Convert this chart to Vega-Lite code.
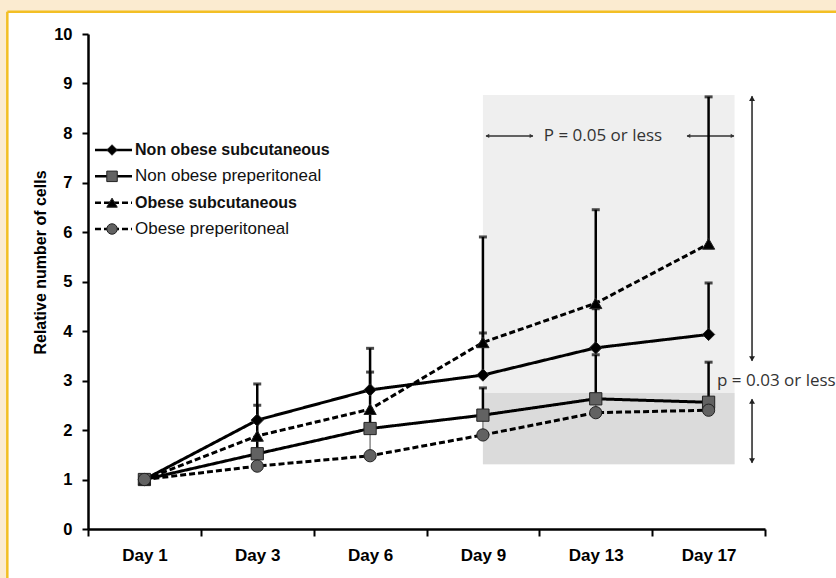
{
  "$schema": "https://vega.github.io/schema/vega-lite/v6.json",
  "width": 677,
  "height": 495,
  "autosize": "none",
  "padding": {"left": 88, "top": 34, "right": 71, "bottom": 49},
  "background": "white",
  "config": {
    "view": {"stroke": null},
    "axis": {"zindex": 1, "grid": false, "domainColor": "#000", "domainWidth": 2.5, "tickColor": "#000", "tickWidth": 2, "tickSize": 6, "labelColor": "#000", "labelFont": "Liberation Sans, Arial, sans-serif", "labelFontWeight": "bold", "titleFont": "Liberation Sans, Arial, sans-serif", "titleFontWeight": "bold", "titleColor": "#000"},
    "axisY": {"labelFontSize": 16.5, "labelPadding": 10, "titleFontSize": 16, "titleX": -48, "titleY": 228, "titleAlign": "center", "titleBaseline": "middle", "titleAngle": 270},
    "axisX": {"labelFontSize": 17, "labelPadding": 11}
  },
  "datasets": {
    "cells": [
      {"day": "Day 1", "series": "Non obese subcutaneous", "value": 1},
      {"day": "Day 3", "series": "Non obese subcutaneous", "value": 2.2, "upper": 2.93},
      {"day": "Day 6", "series": "Non obese subcutaneous", "value": 2.81, "upper": 3.65},
      {"day": "Day 9", "series": "Non obese subcutaneous", "value": 3.11, "upper": 3.96},
      {"day": "Day 13", "series": "Non obese subcutaneous", "value": 3.66, "upper": 4.45},
      {"day": "Day 17", "series": "Non obese subcutaneous", "value": 3.93, "upper": 4.97},
      {"day": "Day 1", "series": "Non obese preperitoneal", "value": 1},
      {"day": "Day 3", "series": "Non obese preperitoneal", "value": 1.52, "upper": 1.8},
      {"day": "Day 6", "series": "Non obese preperitoneal", "value": 2.03, "upper": 2.35},
      {"day": "Day 9", "series": "Non obese preperitoneal", "value": 2.3, "upper": 2.85},
      {"day": "Day 13", "series": "Non obese preperitoneal", "value": 2.63, "upper": 3.52},
      {"day": "Day 17", "series": "Non obese preperitoneal", "value": 2.56, "upper": 3.37},
      {"day": "Day 1", "series": "Obese subcutaneous", "value": 1},
      {"day": "Day 3", "series": "Obese subcutaneous", "value": 1.88, "upper": 2.5},
      {"day": "Day 6", "series": "Obese subcutaneous", "value": 2.42, "upper": 3.17},
      {"day": "Day 9", "series": "Obese subcutaneous", "value": 3.77, "upper": 5.9},
      {"day": "Day 13", "series": "Obese subcutaneous", "value": 4.56, "upper": 6.45},
      {"day": "Day 17", "series": "Obese subcutaneous", "value": 5.76, "upper": 8.73},
      {"day": "Day 1", "series": "Obese preperitoneal", "value": 1},
      {"day": "Day 3", "series": "Obese preperitoneal", "value": 1.27, "upper": 1.5},
      {"day": "Day 6", "series": "Obese preperitoneal", "value": 1.48, "upper": 2.0},
      {"day": "Day 9", "series": "Obese preperitoneal", "value": 1.9, "upper": 2.28},
      {"day": "Day 13", "series": "Obese preperitoneal", "value": 2.35, "upper": 2.6},
      {"day": "Day 17", "series": "Obese preperitoneal", "value": 2.4, "upper": 2.5}
    ],
    "legend": [
      {"series": "Non obese subcutaneous", "rank": 1},
      {"series": "Non obese preperitoneal", "rank": 2},
      {"series": "Obese subcutaneous", "rank": 3},
      {"series": "Obese preperitoneal", "rank": 4}
    ]
  },
  "resolve": {"scale": {"x": "independent", "y": "independent"}},
  "layer": [
    {
      "data": {"values": [{}]},
      "layer": [
        {"mark": {"type": "rect", "fill": "#FBEBD0"},
         "encoding": {"x": {"datum": -0.3, "type": "quantitative", "scale": {"domain": [0.5, 6.5], "nice": false, "zero": false}, "axis": null}, "x2": {"datum": -0.215}, "y": {"datum": 10.7, "type": "quantitative", "scale": {"domain": [0, 10], "nice": false}, "axis": null}, "y2": {"datum": -1.0}}},
        {"mark": {"type": "rect", "fill": "#FBEBD0"},
         "encoding": {"x": {"datum": -0.3, "type": "quantitative", "axis": null}, "x2": {"datum": 7.3}, "y": {"datum": 10.7, "type": "quantitative", "axis": null}, "y2": {"datum": 10.448}}},
        {"mark": {"type": "rule", "color": "#F3BF24", "strokeWidth": 2.5},
         "encoding": {"x": {"datum": -0.215, "type": "quantitative", "axis": null}, "y": {"datum": 10.448, "type": "quantitative", "axis": null}, "y2": {"datum": -1.0}}},
        {"mark": {"type": "rule", "color": "#F3BF24", "strokeWidth": 2.5},
         "encoding": {"x": {"datum": -0.215, "type": "quantitative", "axis": null}, "x2": {"datum": 7.3}, "y": {"datum": 10.448, "type": "quantitative", "axis": null}}},
        {"mark": {"type": "rect", "fill": "#EFEFEF"},
         "encoding": {"x": {"datum": 4.0, "type": "quantitative", "axis": null}, "x2": {"datum": 6.23}, "y": {"datum": 8.77, "type": "quantitative", "axis": null}, "y2": {"datum": 1.31}}},
        {"mark": {"type": "rect", "fill": "#DBDBDB"},
         "encoding": {"x": {"datum": 4.0, "type": "quantitative", "axis": null}, "x2": {"datum": 6.23}, "y": {"datum": 2.747, "type": "quantitative", "axis": null}, "y2": {"datum": 1.31}}},
        {"mark": {"type": "rule", "color": "#333", "strokeWidth": 1.5},
         "encoding": {"x": {"datum": 4.027, "type": "quantitative", "axis": null}, "x2": {"datum": 4.444}, "y": {"datum": 7.94, "type": "quantitative", "axis": null}}},
        {"mark": {"type": "rule", "color": "#333", "strokeWidth": 1.5},
         "encoding": {"x": {"datum": 5.809, "type": "quantitative", "axis": null}, "x2": {"datum": 6.225}, "y": {"datum": 7.94, "type": "quantitative", "axis": null}}},
        {"mark": {"type": "rule", "color": "#222", "strokeWidth": 1.5},
         "encoding": {"x": {"datum": 6.385, "type": "quantitative", "axis": null}, "y": {"datum": 8.74, "type": "quantitative", "axis": null}, "y2": {"datum": 3.4}}},
        {"mark": {"type": "rule", "color": "#222", "strokeWidth": 1.5},
         "encoding": {"x": {"datum": 6.385, "type": "quantitative", "axis": null}, "y": {"datum": 2.62, "type": "quantitative", "axis": null}, "y2": {"datum": 1.34}}},
        {"mark": {"type": "point", "shape": "triangle-up", "filled": true, "color": "#222", "size": 35, "opacity": 1},
         "encoding": {"x": {"datum": 6.385, "type": "quantitative", "axis": null}, "y": {"datum": 8.7, "type": "quantitative", "axis": null}}},
        {"mark": {"type": "point", "shape": "triangle-down", "filled": true, "color": "#222", "size": 35, "opacity": 1},
         "encoding": {"x": {"datum": 6.385, "type": "quantitative", "axis": null}, "y": {"datum": 3.44, "type": "quantitative", "axis": null}}},
        {"mark": {"type": "point", "shape": "triangle-up", "filled": true, "color": "#222", "size": 35, "opacity": 1},
         "encoding": {"x": {"datum": 6.385, "type": "quantitative", "axis": null}, "y": {"datum": 2.58, "type": "quantitative", "axis": null}}},
        {"mark": {"type": "point", "shape": "triangle-down", "filled": true, "color": "#222", "size": 35, "opacity": 1},
         "encoding": {"x": {"datum": 6.385, "type": "quantitative", "axis": null}, "y": {"datum": 1.38, "type": "quantitative", "axis": null}}},
        {"mark": {"type": "point", "shape": "triangle-left", "filled": true, "color": "#333", "size": 18, "opacity": 1},
         "encoding": {"x": {"datum": 4.04, "type": "quantitative", "axis": null}, "y": {"datum": 7.94, "type": "quantitative", "axis": null}}},
        {"mark": {"type": "point", "shape": "triangle-right", "filled": true, "color": "#333", "size": 18, "opacity": 1},
         "encoding": {"x": {"datum": 4.43, "type": "quantitative", "axis": null}, "y": {"datum": 7.94, "type": "quantitative", "axis": null}}},
        {"mark": {"type": "point", "shape": "triangle-left", "filled": true, "color": "#333", "size": 18, "opacity": 1},
         "encoding": {"x": {"datum": 5.822, "type": "quantitative", "axis": null}, "y": {"datum": 7.94, "type": "quantitative", "axis": null}}},
        {"mark": {"type": "point", "shape": "triangle-right", "filled": true, "color": "#333", "size": 18, "opacity": 1},
         "encoding": {"x": {"datum": 6.212, "type": "quantitative", "axis": null}, "y": {"datum": 7.94, "type": "quantitative", "axis": null}}},
        {"mark": {"type": "text", "font": "Open Sans", "fontSize": 17, "color": "#333", "align": "center", "baseline": "middle"},
         "encoding": {"x": {"datum": 5.064, "type": "quantitative", "axis": null}, "y": {"datum": 7.94, "type": "quantitative", "axis": null}, "text": {"value": "P = 0.05 or less"}}},
        {"mark": {"type": "text", "font": "Open Sans", "fontSize": 17, "color": "#333", "align": "left", "baseline": "middle"},
         "encoding": {"x": {"datum": 6.075, "type": "quantitative", "axis": null}, "y": {"datum": 2.99, "type": "quantitative", "axis": null}, "text": {"value": "p = 0.03 or less"}}}
      ]
    },
    {
      "data": {"name": "cells"},
      "encoding": {
        "x": {"field": "day", "type": "nominal", "title": null,
              "scale": {"domain": ["Day 1", "Day 3", "Day 6", "Day 9", "Day 13", "Day 17"], "paddingInner": 0, "paddingOuter": 0},
              "axis": {"tickBand": "extent", "labelAngle": 0, "tickSize": 7}}
      },
      "layer": [
        {"mark": {"type": "line", "color": "#000", "strokeWidth": 3},
         "encoding": {
           "y": {"field": "value", "type": "quantitative", "title": "Relative number of cells", "scale": {"domain": [0, 10], "nice": false}, "axis": {"values": [0, 1, 2, 3, 4, 5, 6, 7, 8, 9, 10]}},
           "strokeDash": {"field": "series", "type": "nominal", "scale": {"domain": ["Non obese subcutaneous", "Non obese preperitoneal", "Obese subcutaneous", "Obese preperitoneal"], "range": [[1, 0], [1, 0], [6, 3], [6, 3]]}, "legend": null},
           "order": {"value": null}}},
        {"transform": [{"filter": "datum.upper != null && datum.series != 'Obese preperitoneal'"}],
         "mark": {"type": "rule", "color": "#000", "strokeWidth": 2.5},
         "encoding": {"y": {"field": "value", "type": "quantitative", "title": "Relative number of cells"}, "y2": {"field": "upper"}}},
        {"transform": [{"filter": "datum.upper != null && datum.series != 'Obese preperitoneal'"}],
         "mark": {"type": "tick", "color": "#000", "thickness": 3, "size": 8},
         "encoding": {"y": {"field": "upper", "type": "quantitative", "title": "Relative number of cells"}}},
        {"transform": [{"filter": "datum.upper != null && datum.series == 'Obese preperitoneal'"}],
         "mark": {"type": "rule", "color": "#888", "strokeWidth": 1.5},
         "encoding": {"y": {"field": "value", "type": "quantitative", "title": "Relative number of cells"}, "y2": {"field": "upper"}}},
        {"mark": {"type": "point", "filled": true, "opacity": 1, "size": 150, "stroke": "#222", "strokeWidth": 1},
         "encoding": {
           "y": {"field": "value", "type": "quantitative", "title": "Relative number of cells"},
           "shape": {"field": "series", "type": "nominal", "scale": {"domain": ["Non obese subcutaneous", "Non obese preperitoneal", "Obese subcutaneous", "Obese preperitoneal"], "range": ["diamond", "square", "triangle-up", "circle"]}, "legend": null},
           "color": {"field": "series", "type": "nominal", "scale": {"domain": ["Non obese subcutaneous", "Non obese preperitoneal", "Obese subcutaneous", "Obese preperitoneal"], "range": ["#000000", "#626262", "#000000", "#626262"]}, "legend": null}}}
      ]
    },
    {
      "data": {"name": "legend"},
      "encoding": {
        "y": {"field": "rank", "type": "quantitative", "scale": {"domain": [-3.406, 15.394], "reverse": true, "nice": false, "zero": false}, "axis": null}
      },
      "layer": [
        {"mark": {"type": "rule", "color": "#000", "strokeWidth": 2.5},
         "encoding": {"x": {"datum": 0.562, "type": "quantitative", "scale": {"domain": [0.5, 6.5], "nice": false, "zero": false}, "axis": null}, "x2": {"datum": 0.89},
           "strokeDash": {"field": "series", "type": "nominal", "legend": null}}},
        {"mark": {"type": "point", "filled": true, "opacity": 1, "size": 110, "stroke": "#222", "strokeWidth": 1},
         "encoding": {"x": {"datum": 0.713, "type": "quantitative", "axis": null},
           "shape": {"field": "series", "type": "nominal", "legend": null},
           "color": {"field": "series", "type": "nominal", "legend": null}}},
        {"transform": [{"filter": "indexof(datum.series, 'subcutaneous') >= 0"}],
         "mark": {"type": "text", "font": "Liberation Sans, Arial, sans-serif", "fontSize": 16, "fontWeight": "bold", "color": "#111", "align": "left", "baseline": "middle"},
         "encoding": {"x": {"datum": 0.917, "type": "quantitative", "axis": null}, "text": {"field": "series"}}},
        {"transform": [{"filter": "indexof(datum.series, 'subcutaneous') < 0"}],
         "mark": {"type": "text", "font": "Liberation Sans, Arial, sans-serif", "fontSize": 17, "fontWeight": "normal", "color": "#111", "align": "left", "baseline": "middle"},
         "encoding": {"x": {"datum": 0.917, "type": "quantitative", "axis": null}, "text": {"field": "series"}}}
      ]
    }
  ]
}
